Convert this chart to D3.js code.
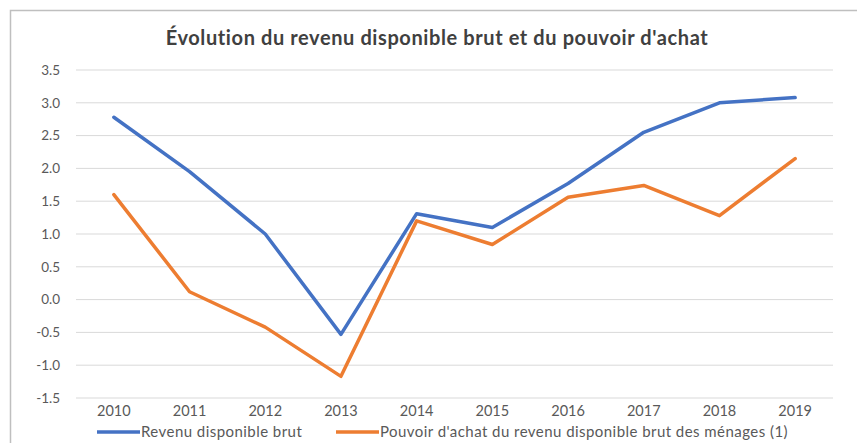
<!DOCTYPE html>
<html>
<head>
<meta charset="utf-8">
<script src="https://cdn.jsdelivr.net/npm/d3@7"></script>
<style>
  body { margin: 0; background: #fff; }
  text { font-family: Lato, "Open Sans", sans-serif; }
</style>
</head>
<body>
<svg id="chart" width="857" height="443"></svg>
<script>
// données
const years = ['2010', '2011', '2012', '2013', '2014', '2015', '2016', '2017', '2018', '2019']
const revenu = [2.78, 1.95, 1.0, -0.53, 1.31, 1.1, 1.77, 2.55, 3.0, 3.08]
const pouvoir = [1.6, 0.12, -0.42, -1.17, 1.2, 0.84, 1.56, 1.74, 1.28, 2.15]
const yTicks = [-1.5, -1.0, -0.5, 0.0, 0.5, 1.0, 1.5, 2.0, 2.5, 3.0, 3.5]
const seriesNames = ['Revenu disponible brut', "Pouvoir d'achat du revenu disponible brut des ménages (1)"]
const colors = ['#4472C4', '#ED7D31']

const svg = d3.select('#chart')
const marge = { top: 70, bottom: 45, left: 76, right: 24 }
const width = 857, height = 443

// cadre
svg.append('rect')
  .attr('x', 10.5).attr('y', 10.5)
  .attr('width', 870).attr('height', 470)
  .attr('fill', '#fff').attr('stroke', '#bfbfbf').attr('stroke-width', 1.5)

svg.append('text')
  .attr('x', 437).attr('y', 45)
  .attr('text-anchor', 'middle')
  .attr('font-size', 20).attr('font-weight', 'bold')
  .attr('letter-spacing', 0.6)
  .attr('fill', '#404040')
  .text("Évolution du revenu disponible brut et du pouvoir d'achat")

const x = d3.scaleBand()
  .domain(years)
  .range([marge.left, width - marge.right])

const y = d3.scaleLinear()
  .domain([-1.5, 3.5])
  .range([398, marge.top])

// grille
svg.append('g')
  .selectAll('line')
  .data(yTicks)
  .join('line')
  .attr('x1', marge.left).attr('x2', width - marge.right)
  .attr('y1', d => y(d)).attr('y2', d => y(d))
  .attr('stroke', '#d9d9d9').attr('stroke-width', 1)

// axe y (tiret simple comme dans Excel)
const yAxis = d3.axisLeft(y).tickValues(yTicks)
  .tickFormat(d => d3.format('.1f')(d).replace('−', '-'))
  .tickSize(0).tickPadding(16)
svg.append('g')
  .attr('transform', `translate(${marge.left},0)`)
  .call(yAxis)
  .call(g => g.select('.domain').remove())
  .selectAll('text')
  .attr('font-size', 13.5).attr('fill', '#595959')
  .style('font-family', 'Lato, sans-serif')

// axe x
const xAxis = d3.axisBottom(x).tickSize(0).tickPadding(8)
svg.append('g')
  .attr('transform', `translate(0,${y(-1.5)})`)
  .call(xAxis)
  .call(g => g.select('.domain').remove())
  .selectAll('text')
  .attr('font-size', 14.5).attr('fill', '#595959')
  .style('font-family', 'Lato, sans-serif')

const line = d3.line()
  .x((d, i) => x(years[i]) + x.bandwidth() / 2)
  .y(d => y(d))

;[revenu, pouvoir].forEach((s, k) => {
  svg.append('path')
    .datum(s)
    .attr('d', line)
    .attr('fill', 'none')
    .attr('stroke', colors[k])
    .attr('stroke-width', 3.5)
    .attr('stroke-linejoin', 'round')
    .attr('stroke-linecap', 'round')
})

// légende
const legendX = [97, 336]
seriesNames.forEach((name, k) => {
  const g = svg.append('g').attr('transform', `translate(${legendX[k]},432)`)
  g.append('line')
    .attr('x1', 0).attr('x2', 43)
    .attr('stroke', colors[k]).attr('stroke-width', 3.5)
  g.append('text')
    .attr('x', 44).attr('y', 5)
    .attr('font-size', 15).attr('letter-spacing', 0.45)
    .attr('fill', '#595959')
    .text(name)
})
</script>
</body>
</html>
